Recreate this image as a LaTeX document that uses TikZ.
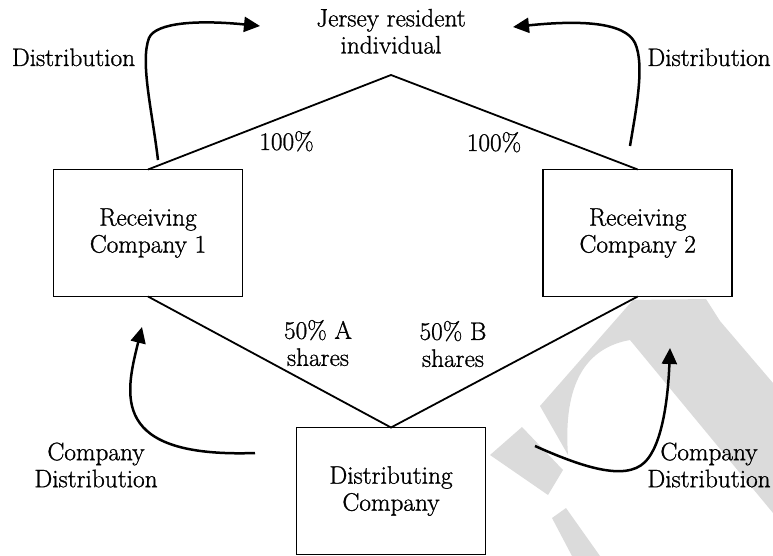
\documentclass[tikz,border=0pt]{standalone}
\usepackage{fontspec}
\newfontfamily\diagfont{Latin Modern Roman}[FakeBold=1]
\usetikzlibrary{arrows.meta}
\definecolor{wmgray}{RGB}{219,219,219}
\begin{document}
\begin{tikzpicture}[x=1pt,y=-1pt,
  every node/.style={font=\diagfont\fontsize{25.3}{27}\selectfont, inner sep=0pt, outer sep=0pt},
  entity/.style={draw, line width=1.8pt, fill=white, align=center,
                 minimum width=189pt, minimum height=127pt},
  lbl/.style={align=center},
  holding/.style={line width=1.8pt},
  flow/.style={line width=2.5pt, -{Triangle[length=16pt,width=15pt]}},
  wm/.style={fill=wmgray, draw=none}]

\useasboundingbox (0,0) rectangle (773,556);

% faint watermark strokes behind the chart
\begin{scope}
  \clip (0,0) rectangle (773,556);
  \fill[wm] (633,300) -- (706,299) -- (720,321) -- (773,383) -- (773,513)
            -- (630,340) .. controls (585,348) and (563,385) .. (568,455)
            -- (540,406) -- cycle;
  \fill[wm] (490,455) -- (522,427) -- (563,470) -- (548,495) -- cycle;
  \fill[wm] (552,518) -- (566,508) -- (600,556) -- (572,556) -- cycle;
\end{scope}

% companies
\node[entity] (rc1) at (148,233)   {Receiving\\Company 1};
\node[entity] (rc2) at (637.7,233) {Receiving\\Company 2};
\node[entity] (dc)  at (391,491)   {Distributing\\Company};

% individual at the top
\node[lbl] (jri) at (391,31.3) {Jersey resident\\individual};
\coordinate (top) at (391,75);

% shareholdings
\draw[holding] (rc1.north) -- (top) -- (rc2.north);
\draw[holding] (rc1.south) -- (dc.north) -- (rc2.south);

\node[anchor=base] (p1) at (286.5,150) {100\%};
\node[anchor=base] (p2) at (494,151) {100\%};
\node[lbl] (sa) at (318,343) {50\% A\\shares};
\node[lbl] (sb) at (453,344) {50\% B\\shares};

% distributions to the individual
\coordinate (d1s) at (158,160);
\coordinate (d1e) at (260,26);
\draw[flow] (d1s) .. controls (152,110) and (140,62) .. (149,38)
                  .. controls (156,22) and (200,20) .. (d1e);
\coordinate (d2s) at (630,146);
\coordinate (d2e) at (513,27);
\draw[flow] (d2s) .. controls (636,110) and (645,65) .. (635,43)
                  .. controls (625,22) and (580,20) .. (d2e);
\node[anchor=base] (dl) at (73.5,66) {Distribution};
\node[anchor=base] (dr) at (709,66)  {Distribution};

% company distributions
\coordinate (c1s) at (255,453);
\coordinate (c1e) at (142,327);
\draw[flow] (c1s) .. controls (110,458) and (125,395) .. (c1e);
\coordinate (c2s) at (535,446);
\coordinate (c2e) at (670,348);
\draw[flow] (c2s) .. controls (580,466) and (625,482) .. (645,462)
                  .. controls (662,445) and (668,400) .. (c2e);
\node[lbl] (cdl) at (96,465)  {Company\\Distribution};
\node[lbl] (cdr) at (709,465) {Company\\Distribution};

\end{tikzpicture}
\end{document}
